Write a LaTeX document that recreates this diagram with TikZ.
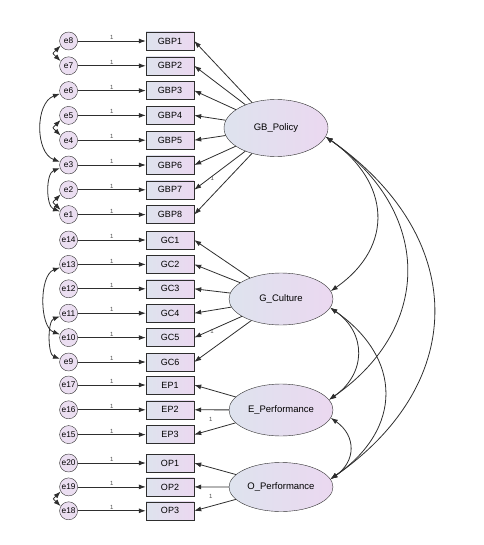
\documentclass[tikz,border=0pt]{standalone}
\usepackage{fontspec}
\setmainfont{Liberation Sans}
\usetikzlibrary{positioning, arrows.meta, calc, shapes.geometric}
\definecolor{linegray}{HTML}{2E2E2E}
\definecolor{shadeleft}{HTML}{DEE3EE}
\definecolor{shaderight}{HTML}{EBD8F0}
\definecolor{errfill}{HTML}{EBDEF1}

\begin{document}
\begin{tikzpicture}[x=1pt, y=1pt,
  box/.style={draw=linegray, left color=shadeleft, right color=shaderight,
              minimum width=48pt, minimum height=18pt, inner sep=0pt,
              font=\fontsize{9}{10}\selectfont},
  err/.style={circle, draw=linegray, fill=errfill, minimum size=18pt,
              inner sep=0pt, font=\fontsize{8.3}{9}\selectfont},
  lat/.style={ellipse, draw=linegray, left color=shadeleft, right color=shaderight,
              minimum width=104pt, inner sep=0pt, font=\fontsize{9.5}{11}\selectfont},
  arr/.style={-{Latex[length=7pt, width=5pt]}, draw=linegray, line width=0.8pt},
  cov/.style={{Latex[length=7pt, width=5pt]}-{Latex[length=7pt, width=5pt]},
              draw=linegray, line width=0.8pt},
  lbl/.style={font=\fontsize{6}{7}\selectfont, text=gray!60!black, inner sep=1pt},
  node distance=6.4pt]
  \useasboundingbox (0,0) rectangle (483,-545);
  % latent variables
  \node[lat, minimum height=57pt] (gb) at (276,-128) {GB\_Policy};
  \node[lat, minimum height=52pt] (gc) at (281,-299) {G\_Culture};
  \node[lat, minimum height=52pt] (ep) at (281,-410) {E\_Performance};
  \node[lat, minimum height=49pt] (op) at (281,-487) {O\_Performance};
  % GB_Policy items
  \node[box] (gbp1) at (170,-41) {GBP1};
  \foreach \i [count=\j from 1] in {2,...,8} \node[box, below=of gbp\j] (gbp\i) {GBP\i};
  % G_Culture items
  \node[box] (gc1) at (170,-240) {GC1};
  \foreach \i [count=\j from 1] in {2,...,6} \node[box, below=6pt of gc\j] (gc\i) {GC\i};
  % E_Performance items
  \node[box] (ep1) at (170,-385) {EP1};
  \foreach \i [count=\j from 1] in {2,3} \node[box, below=of ep\j] (ep\i) {EP\i};
  % O_Performance items
  \node[box] (op1) at (170,-463) {OP1};
  \foreach \i [count=\j from 1] in {2,3} \node[box, below=5.5pt of op\j] (op\i) {OP\i};
  % errors
  \foreach \i in {1,...,8} {
    \pgfmathtruncatemacro{\k}{9-\i}
    \node[err, left=68pt of gbp\i] (e\k) {e\k};
    \draw[arr] (e\k) -- node[lbl, above] {1} (gbp\i);
  }
  \foreach \i in {1,...,6} {
    \pgfmathtruncatemacro{\k}{15-\i}
    \node[err, left=68pt of gc\i] (e\k) {e\k};
    \draw[arr] (e\k) -- node[lbl, above] {1} (gc\i);
  }
  \foreach \i in {1,2,3} {
    \pgfmathtruncatemacro{\k}{18-\i}
    \node[err, left=68pt of ep\i] (e\k) {e\k};
    \draw[arr] (e\k) -- node[lbl, above] {1} (ep\i);
  }
  \foreach \i in {1,2,3} {
    \pgfmathtruncatemacro{\k}{21-\i}
    \node[err, left=68pt of op\i] (e\k) {e\k};
    \draw[arr] (e\k) -- node[lbl, above] {1} (op\i);
  }
  % loadings
  \foreach \i in {1,...,7} \draw[arr] (gb) -- (gbp\i.east);
  \draw[arr] (gb) -- node[lbl, pos=0.6, xshift=-5pt, yshift=12pt] {1} (gbp8.east);
  \foreach \i in {1,...,5} \draw[arr] (gc) -- (gc\i.east);
  \draw[arr] (gc) -- node[lbl, pos=0.6, xshift=-5pt, yshift=14pt] {1} (gc6.east);
  \foreach \i in {1,2} \draw[arr] (ep) -- (ep\i.east);
  \draw[arr] (ep) -- node[lbl, pos=0.6, yshift=10pt] {1} (ep3.east);
  \foreach \i in {1,2} \draw[arr] (op) -- (op\i.east);
  \draw[arr] (op) -- node[lbl, pos=0.6, yshift=10pt] {1} (op3.east);
  % covariances between factors
  \draw[cov] (gb.-10) to[out=-35, in=35, looseness=1.3] (gc.9);
  \draw[cov] (gb.-10) to[out=-35, in=35, looseness=1.25] (ep.12);
  \draw[cov] (gb.-10) to[out=-35, in=35, looseness=1.28] (op.9);
  \draw[cov] (gc.-10) to[out=-35, in=35, looseness=1.25] (ep.12);
  \draw[cov] (gc.-10) to[out=-35, in=35, looseness=1.32] (op.9);
  \draw[cov] (ep.-9) to[out=-35, in=35, looseness=1.3] (op.9);
  % covariances between errors
  \draw[cov] (e8.210) to[out=225, in=135, looseness=2] (e7.150);
  \draw[cov] (e6.200) to[out=200, in=160] (e3.160);
  \draw[cov] (e5.210) to[out=225, in=135, looseness=2] (e4.150);
  \draw[cov] (e3.200) to[out=200, in=160, looseness=0.9] (e1.160);
  \draw[cov] (e2.210) to[out=225, in=135, looseness=2] (e1.150);
  \draw[cov] (e13.200) to[out=200, in=160, looseness=0.85] (e10.160);
  \draw[cov] (e11.200) to[out=200, in=160, looseness=0.8] (e9.160);
  \draw[cov] (e19.210) to[out=225, in=135, looseness=2] (e18.150);
\end{tikzpicture}
\end{document}
